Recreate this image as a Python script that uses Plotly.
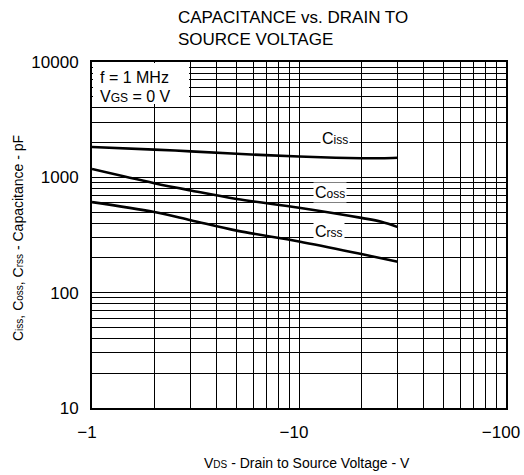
import numpy as np
import plotly.graph_objects as go

# Data (VDS in volts, capacitance in pF)
vds_ciss = [-1, -2, -3, -5, -10, -15, -20, -25, -30]
ciss = [1830, 1740, 1680, 1600, 1515, 1480, 1465, 1465, 1480]

vds_coss = [-1, -2, -3, -5, -10, -20, -25, -30]
coss = [1180, 890, 770, 650, 545, 445, 412, 370]

vds_crss = [-1, -2, -3, -5, -10, -20, -30]
crss = [610, 500, 425, 345, 278, 216, 185]

x_tickvals = [-1, -10, -100]
x_ticktext = ["\u22121", "\u221210", "\u2212100"]
y_tickvals = [10, 100, 1000, 10000]
y_ticktext = ["10", "100", "1000", "10000"]

FONT = "Arial, Liberation Sans, sans-serif"
PL, PT, PW, PH = 92, 62, 414, 346  # plot area in px


def px(xp):
    return (xp - PL) / PW


def py(yp):
    return (PT + PH - yp) / PH


fig = go.Figure()
for vx, cy in [(vds_ciss, ciss), (vds_coss, coss), (vds_crss, crss)]:
    fig.add_trace(go.Scatter(x=np.abs(vx), y=cy, mode="lines",
                             line=dict(color="black", width=2.6, shape="spline"),
                             showlegend=False, hoverinfo="skip"))

minor_x = [m * d for d in (1, 10) for m in range(2, 10)]
minor_y = [m * d for d in (10, 100, 1000) for m in range(2, 10)]

axis_common = dict(showline=True, linecolor="black", linewidth=2, mirror=True,
                   showgrid=True, gridcolor="black", gridwidth=1,
                   ticks="outside", ticklen=8, tickcolor="white",
                   tickfont=dict(family=FONT, size=17, color="black"),
                   zeroline=False, automargin=False, layer="above traces")

fig.update_xaxes(type="log", range=[0, 2], tickvals=np.abs(x_tickvals), ticktext=x_ticktext,
                 minor=dict(tickvals=minor_x, showgrid=True, gridcolor="black", gridwidth=1, ticklen=0),
                 ticklabeloverflow="allow", ticklabelshift=-5, **axis_common)
fig.update_yaxes(type="log", range=[1, 4], tickvals=y_tickvals, ticktext=y_ticktext,
                 minor=dict(tickvals=minor_y, showgrid=True, gridcolor="black", gridwidth=1, ticklen=0),
                 **axis_common)

# White box behind the test conditions (covers the grid, inset from the frame)
fig.add_shape(type="rect", xref="paper", yref="paper",
              x0=px(93), x1=px(189), y0=py(104), y1=py(63),
              fillcolor="white", line=dict(width=0), layer="above")

sub = "<span style='font-size:12px'>{}</span>"
ann = []
# Curve labels (positions in log10 units)
for txt, xv, yv in [("C" + sub.format("iss"), 15, 2150),
                    ("C" + sub.format("oss"), 14.1, 746),
                    ("C" + sub.format("rss"), 14, 336)]:
    ann.append(dict(x=np.log10(xv), y=np.log10(yv), xref="x", yref="y", text=txt,
                    showarrow=False, bgcolor="white", borderpad=1,
                    font=dict(family=FONT, size=16, color="black")))
# Test conditions
for txt, yc in [("f = 1 MHz", 77.5), ("V<span style='font-size:12px'>GS</span> = 0 V", 96)]:
    ann.append(dict(x=px(99), y=py(yc), xref="paper", yref="paper", xanchor="left",
                    yanchor="middle", text=txt, showarrow=False, borderpad=0,
                    font=dict(family=FONT, size=16, color="black")))
# Title
ann.append(dict(x=px(176), y=py(29), xref="paper", yref="paper",
                xanchor="left", yanchor="middle", align="left", showarrow=False,
                text="CAPACITANCE vs. DRAIN TO<br>SOURCE VOLTAGE",
                font=dict(family=FONT, size=17, color="black")))
# Axis titles
ann.append(dict(x=px(307), y=py(463), xref="paper", yref="paper",
                xanchor="center", yanchor="middle", showarrow=False,
                text="V<span style='font-size:10px'>DS</span> - Drain to Source Voltage - V",
                font=dict(family=FONT, size=14, color="black")))
ann.append(dict(x=px(18), y=py(238), xref="paper", yref="paper",
                xanchor="center", yanchor="middle", showarrow=False, textangle=-90,
                text="C<span style='font-size:10px'>iss</span>, C<span style='font-size:10px'>oss</span>, "
                     "C<span style='font-size:10px'>rss</span> - Capacitance - pF",
                font=dict(family=FONT, size=14, color="black")))

fig.update_layout(width=524, height=475, margin=dict(l=PL, r=524 - PL - PW, t=PT, b=475 - PT - PH),
                  paper_bgcolor="white", plot_bgcolor="white", annotations=ann,
                  showlegend=False)

fig.write_html("out.html", config={"displayModeBar": False},
               post_script="document.body.style.margin='0';document.body.style.overflow='hidden';")
